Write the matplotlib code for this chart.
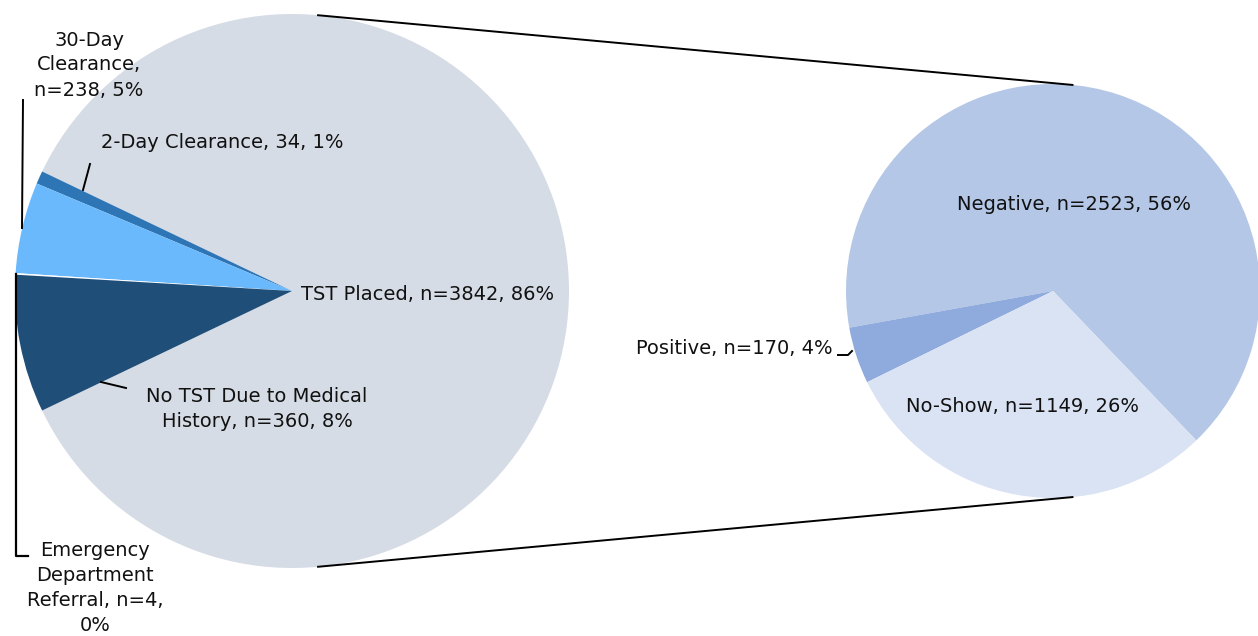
import matplotlib.pyplot as plt
import numpy as np

plt.rcParams['font.family'] = ['DejaVu Sans']

# main pie
main_labels = ["TST Placed", "2-Day Clearance", "30-Day Clearance",
               "Emergency Department Referral", "No TST Due to Medical History"]
main_counts = [3842, 34, 238, 4, 360]
main_colors = ["#D6DCE5", "#2E75B6", "#6BB9FD", "#FFFFFF", "#1F4E79"]

# breakdown of TST Placed
sub_labels = ["Negative", "Positive", "No-Show"]
sub_counts = [2523, 170, 1149]
sub_colors = ["#B4C7E7", "#8FAADC", "#DAE3F3"]

W, H = 1258, 636
fig = plt.figure(figsize=(W / 100, H / 100), dpi=100)
ax = fig.add_axes([0, 0, 1, 1])

c1, r1 = (292, H - 291), 277
c2, r2 = (1053, H - 291), 207

# TST Placed slice centered on the right side
tst_angle = 360 * main_counts[0] / sum(main_counts)
ax.pie(main_counts, colors=main_colors, startangle=-tst_angle / 2,
       center=c1, radius=r1, wedgeprops=dict(linewidth=0))
ax.pie(sub_counts, colors=sub_colors, startangle=-46.2,
       center=c2, radius=r2, wedgeprops=dict(linewidth=0))

# connector lines
a = np.deg2rad(84.6)
for s in (1, -1):
    ax.plot([c1[0] + r1 * np.cos(a), c2[0] + r2 * np.cos(a)],
            [c1[1] + s * r1 * np.sin(a), c2[1] + s * r2 * np.sin(a)],
            color="black", lw=1.4)

def py(y):
    return H - y

fs = 14
tk = dict(fontsize=fs, color="#111111", linespacing=1.4)
ax.text(89, py(65), f"30-Day\nClearance,\nn={main_counts[2]}, 5%", ha="center", va="center", **tk)
ax.plot([23, 22], [py(100), py(228)], color="black", lw=1.4)

ax.text(101, py(142), f"2-Day Clearance, {main_counts[1]}, 1%", ha="left", va="center", **tk)
ax.plot([83, 90], [py(190), py(164)], color="black", lw=1.4)

ax.text(301, py(295), f"TST Placed, n={main_counts[0]}, 86%", ha="left", va="center", **tk)

ax.text(257, py(409), f"No TST Due to Medical\nHistory, n={main_counts[4]}, 8%", ha="center", va="center", **tk)
ax.plot([101, 126], [py(382), py(388)], color="black", lw=1.4)

ax.text(95, py(588), f"Emergency\nDepartment\nReferral, n={main_counts[3]},\n0%", ha="center", va="center", **tk)
ax.plot([16, 16, 28], [py(274), py(556), py(556)], color="black", lw=1.6)

ax.text(1074, py(205), f"Negative, n={sub_counts[0]}, 56%", ha="center", va="center", **tk)
ax.text(833, py(349), f"Positive, n={sub_counts[1]}, 4%", ha="right", va="center", **tk)
ax.plot([838, 848, 852], [py(355), py(355), py(351)], color="black", lw=1.4)
ax.text(1023, py(406), f"No-Show, n={sub_counts[2]}, 26%", ha="center", va="center", **tk)

ax.set_xlim(0, W)
ax.set_ylim(0, H)
ax.set_aspect("equal")
ax.axis("off")
fig.savefig("out.png", dpi=100)
